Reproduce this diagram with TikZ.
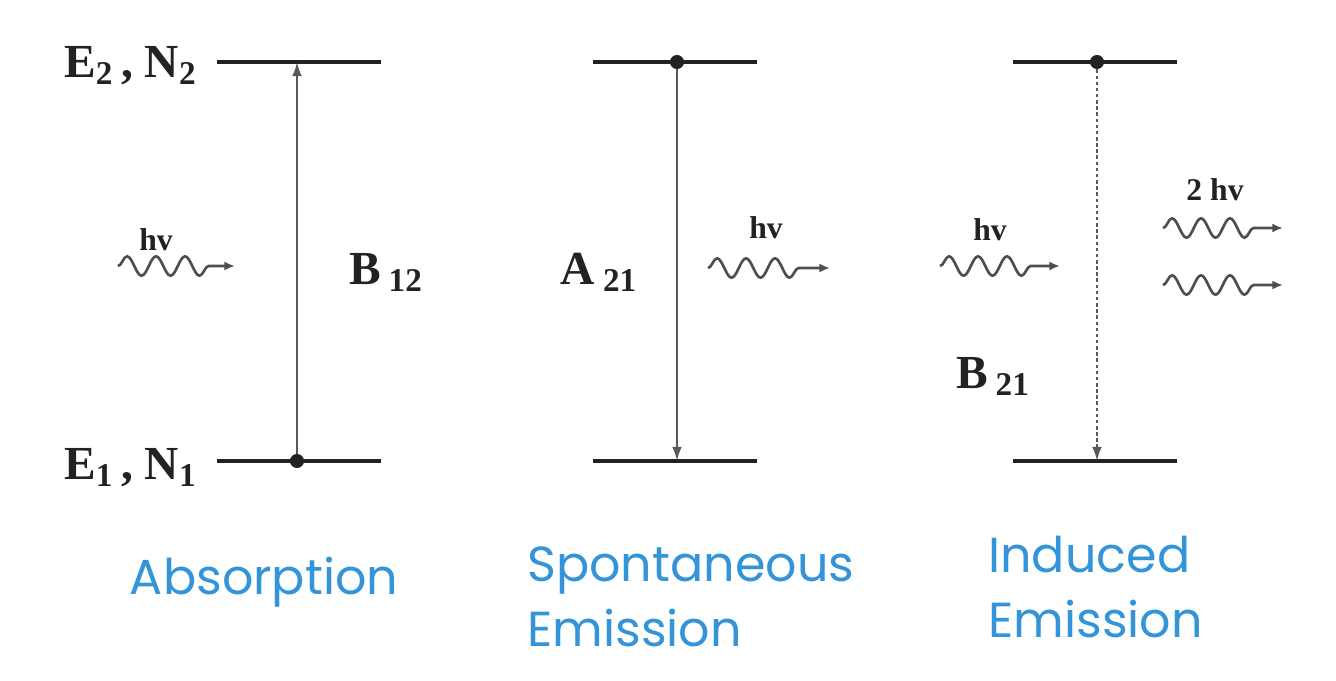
\documentclass[tikz,border=0pt]{standalone}
\usepackage{fontspec}
\setmainfont{Liberation Serif}
\newfontfamily\capfont{Poppins}
\usetikzlibrary{arrows.meta,decorations.pathmorphing}
\definecolor{capblue}{HTML}{3394DA}
\definecolor{ink}{HTML}{222222}
\tikzset{
  level/.style={line width=2.2pt, draw=ink},
  trans/.style={line width=1.2pt, draw=ink!75, -{Latex[length=8pt,width=5.5pt]}},
  transdash/.style={trans, dash pattern=on 2pt off 1.5pt},
  pop/.style={circle, fill=ink, inner sep=0pt, minimum size=8pt},
  lab/.style={font=\bfseries\fontsize{27}{30}\selectfont, text=ink, inner sep=0pt},
  hv/.style={font=\bfseries\fontsize{18}{21}\selectfont, text=ink, inner sep=0pt},
  captxt/.style={font=\capfont\fontsize{28}{37}\selectfont, text=capblue, inner sep=0pt},
  photon/.style={line width=1.5pt, draw=ink!80, -{Latex[length=6pt,width=5pt]},
    decorate, decoration={snake, amplitude=5.5pt, segment length=16.5pt, post length=10pt}},
}
\begin{document}
\begin{tikzpicture}[x=0.02cm,y=-0.02cm]
\useasboundingbox[fill=white] (0,0) rectangle (1336,680);
% ---------- Absorption ----------
\coordinate (a2l) at (217,62); \coordinate (a2r) at (381,62);
\coordinate (a1l) at (217,461); \coordinate (a1r) at (381,461);
\coordinate (a2m) at (297,62);
\draw[level] (a2l) -- (a2r);
\draw[level] (a1l) -- (a1r);
\node[pop] (adot) at (297,461) {};
\draw[trans] (adot) -- (a2m);
\node[lab, anchor=east] (e2) at (197,66) {E$_{\mathbf{2}}$\,, N$_{\mathbf{2}}$};
\node[lab, anchor=east] (e1) at (197,468) {E$_{\mathbf{1}}$\,, N$_{\mathbf{1}}$};
\node[hv] (ahv) at (156,240) {hv};
\coordinate (aws) at (118,266); \coordinate (awe) at (235,266);
\draw[photon] (aws) -- (awe);
\node[lab] (b12) at (386,272) {B\,$_{\mathbf{12}}$};
\node[captxt] (absorb) at (264,582) {Absorption};
% ---------- Spontaneous ----------
\coordinate (s2l) at (593,62); \coordinate (s2r) at (757,62);
\coordinate (s1l) at (593,461); \coordinate (s1r) at (757,461);
\coordinate (s1m) at (677,461);
\draw[level] (s2l) -- (s2r);
\draw[level] (s1l) -- (s1r);
\node[pop] (sdot) at (677,62) {};
\draw[trans] (sdot) -- (s1m);
\node[lab] (a21) at (599,272) {A\,$_{\mathbf{21}}$};
\node[hv] (shv) at (766,228) {hv};
\coordinate (sws) at (708,268); \coordinate (swe) at (830,268);
\draw[photon] (sws) -- (swe);
\node[captxt, align=left, anchor=north west] (spont) at (527,546) {Spontaneous\\Emission};
% ---------- Induced ----------
\coordinate (i2l) at (1013,62); \coordinate (i2r) at (1177,62);
\coordinate (i1l) at (1013,461); \coordinate (i1r) at (1177,461);
\coordinate (i1m) at (1097,461);
\draw[level] (i2l) -- (i2r);
\draw[level] (i1l) -- (i1r);
\node[pop] (idot) at (1097,62) {};
\draw[transdash] (idot) -- (i1m);
\node[hv] (ihv) at (990,230) {hv};
\coordinate (iws) at (940,266); \coordinate (iwe) at (1060,266);
\draw[photon] (iws) -- (iwe);
\node[lab] (b21) at (993,376) {B\,$_{\mathbf{21}}$};
\node[hv] (i2hv) at (1215,190) {2 hv};
\coordinate (o1s) at (1163,228); \coordinate (o1e) at (1283,228);
\coordinate (o2s) at (1163,285); \coordinate (o2e) at (1283,285);
\draw[photon] (o1s) -- (o1e);
\draw[photon] (o2s) -- (o2e);
\node[captxt, align=left, anchor=north west] (induced) at (988,536) {Induced\\Emission};
\end{tikzpicture}
\end{document}
